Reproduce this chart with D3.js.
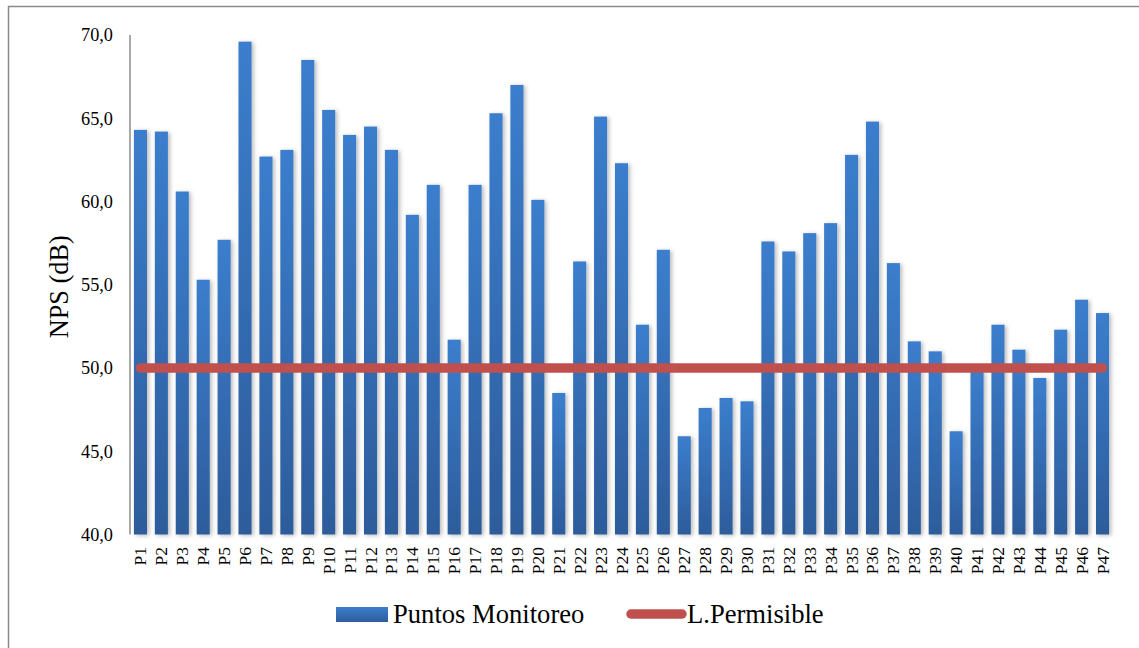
<!DOCTYPE html>
<html>
<head>
<meta charset="utf-8">
<script src="https://cdn.jsdelivr.net/npm/d3@7/dist/d3.min.js"></script>
<style>
  html, body { margin: 0; padding: 0; background: #ffffff; }
  svg { display: block; }
</style>
</head>
<body>
<svg id="chart" width="1139" height="648"></svg>
<script>
// Monitoring points and measured sound pressure levels (dB)
const categories = ["P1","P2","P3","P4","P5","P6","P7","P8","P9","P10",
  "P11","P12","P13","P14","P15","P16","P17","P18","P19","P20",
  "P21","P22","P23","P24","P25","P26","P27","P28","P29","P30",
  "P31","P32","P33","P34","P35","P36","P37","P38","P39","P40",
  "P41","P42","P43","P44","P45","P46","P47"];
const nps = [64.3, 64.2, 60.6, 55.3, 57.7, 69.6, 62.7, 63.1, 68.5, 65.5,
  64.0, 64.5, 63.1, 59.2, 61.0, 51.7, 61.0, 65.3, 67.0, 60.1,
  48.5, 56.4, 65.1, 62.3, 52.6, 57.1, 45.9, 47.6, 48.2, 48.0,
  57.6, 57.0, 58.1, 58.7, 62.8, 64.8, 56.3, 51.6, 51.0, 46.2,
  49.8, 52.6, 51.1, 49.4, 52.3, 54.1, 53.3];
// Permissible limit, one value per point
const limite = categories.map(() => 50);
const yTicks = [40, 45, 50, 55, 60, 65, 70];
const seriesNames = ["Puntos Monitoreo", "L.Permisible"];

const FONT = "'Liberation Serif', serif";

const svg = d3.select("#chart");
const W = 1139, H = 648;
const plot = { left: 130, right: 1113, top: 35, bottom: 534.5 };

const defs = svg.append("defs");
const grad = defs.append("linearGradient")
  .attr("id", "barGrad").attr("x1", 0).attr("y1", 0).attr("x2", 0).attr("y2", 1);
grad.append("stop").attr("offset", "0%").attr("stop-color", "#3b7ecd");
grad.append("stop").attr("offset", "100%").attr("stop-color", "#2d5c9b");

const shadow = defs.append("filter").attr("id", "barShadow")
  .attr("x", "-50%").attr("y", "-5%").attr("width", "200%").attr("height", "110%");
shadow.append("feDropShadow").attr("dx", 2).attr("dy", 1).attr("stdDeviation", 2)
  .attr("flood-color", "#000").attr("flood-opacity", 0.28);

const gridShadow = defs.append("filter").attr("id", "gridShadow")
  .attr("x", "0").attr("y", "-200%").attr("width", "100%").attr("height", "500%");
gridShadow.append("feDropShadow").attr("dx", 0).attr("dy", 1.5).attr("stdDeviation", 0.8)
  .attr("flood-color", "#000").attr("flood-opacity", 0.25);

// Outer chart border
svg.append("path")
  .attr("d", `M8.5,${H + 2} L8.5,6.5 L${W + 2},6.5`)
  .attr("fill", "none").attr("stroke", "#8a8a8a").attr("stroke-width", 1.5);

const x = d3.scaleBand().domain(categories)
  .range([plot.left, plot.right]).paddingInner(0.375).paddingOuter(0.1875);
const y = d3.scaleLinear().domain([40, 70]).range([plot.bottom, plot.top]);

// Horizontal gridlines
svg.append("g").selectAll("line").data(yTicks.filter(t => t > 40)).join("line")
  .attr("x1", plot.left).attr("x2", plot.right)
  .attr("y1", d => y(d)).attr("y2", d => y(d))
  .attr("stroke", "#8c8c8c").attr("stroke-width", 1.5)
  .attr("filter", "url(#gridShadow)");

// Bars
svg.append("g").selectAll("rect").data(nps).join("rect")
  .attr("x", (d, i) => x(categories[i]))
  .attr("width", x.bandwidth())
  .attr("y", d => y(d))
  .attr("height", d => y(40) - y(d))
  .attr("fill", "url(#barGrad)")
  .attr("filter", "url(#barShadow)");

// Left axis line and baseline
svg.append("line").attr("x1", plot.left).attr("x2", plot.left)
  .attr("y1", plot.top).attr("y2", plot.bottom)
  .attr("stroke", "#8c8c8c").attr("stroke-width", 1.5);
svg.append("line").attr("x1", plot.left).attr("x2", plot.right)
  .attr("y1", plot.bottom).attr("y2", plot.bottom)
  .attr("stroke", "#8c8c8c").attr("stroke-width", 1.5)
  .attr("filter", "url(#gridShadow)");

// Permissible limit line
const line = d3.line()
  .x((d, i) => x(categories[i]) + x.bandwidth() / 2)
  .y(d => y(d));
svg.append("path").datum(limite)
  .attr("d", line)
  .attr("fill", "none").attr("stroke", "#c0504d")
  .attr("stroke-width", 9.5).attr("stroke-linecap", "round");

// Y axis tick labels
const fmt = d => d3.format(".1f")(d).replace(".", ",");
svg.append("g").selectAll("text").data(yTicks).join("text")
  .attr("x", 113).attr("y", d => y(d))
  .attr("dy", "0.35em")
  .attr("text-anchor", "end")
  .attr("font-family", FONT)
  .attr("font-size", 18.3)
  .attr("fill", "#000")
  .text(fmt);

// Y axis title
svg.append("text")
  .attr("transform", `translate(68,${(plot.top + plot.bottom) / 2 + 2}) rotate(-90)`)
  .attr("text-anchor", "middle")
  .attr("font-family", FONT)
  .attr("font-size", 26.3)
  .attr("fill", "#000")
  .text("NPS (dB)");

// X axis category labels
svg.append("g").selectAll("text").data(categories).join("text")
  .attr("transform", d => `translate(${x(d) + x.bandwidth() / 2 + 6},547) rotate(-90)`)
  .attr("text-anchor", "end")
  .attr("font-family", FONT)
  .attr("font-size", 17.5)
  .attr("fill", "#000")
  .text(d => d);

// Legend
const lg = svg.append("g");
lg.append("rect").attr("x", 336).attr("y", 607).attr("width", 52).attr("height", 15)
  .attr("fill", "url(#barGrad)");
lg.append("text").attr("x", 393).attr("y", 623)
  .attr("font-family", FONT).attr("font-size", 26.6).attr("fill", "#000")
  .text(seriesNames[0]);
lg.append("line").attr("x1", 631).attr("x2", 682).attr("y1", 614).attr("y2", 614)
  .attr("stroke", "#c0504d").attr("stroke-width", 9.5).attr("stroke-linecap", "round");
lg.append("text").attr("x", 687).attr("y", 623)
  .attr("font-family", FONT).attr("font-size", 26.6).attr("fill", "#000")
  .text(seriesNames[1]);
</script>
</body>
</html>
